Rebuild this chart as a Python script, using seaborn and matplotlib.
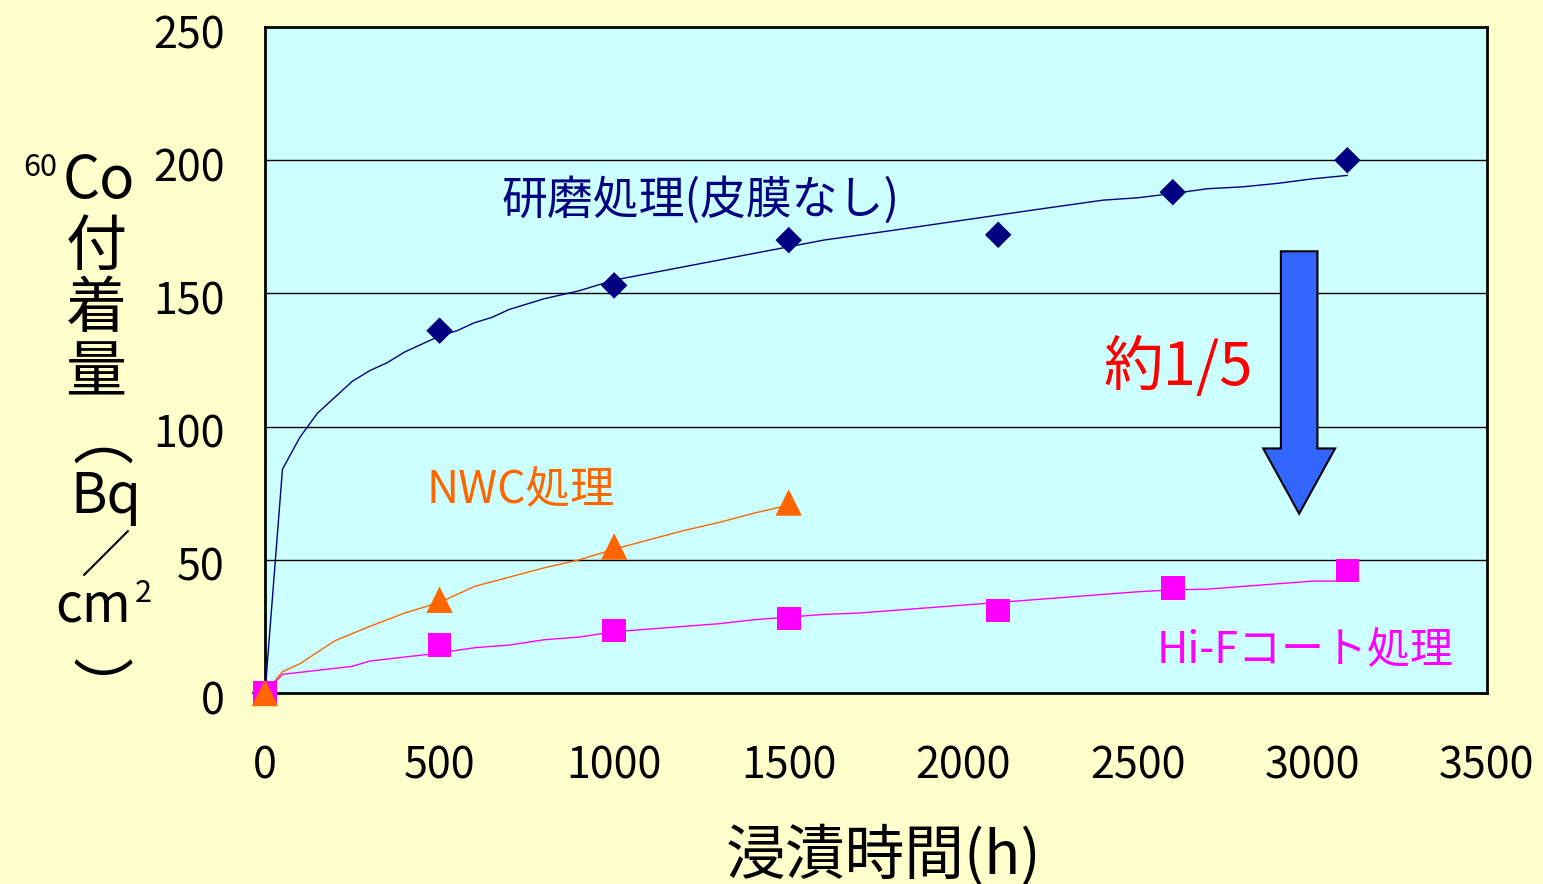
import matplotlib
matplotlib.use("Agg")
import matplotlib.pyplot as plt
import matplotlib.transforms as mtransforms
import seaborn as sns
import pandas as pd
from matplotlib.patches import FancyArrow

# ---------------- data ----------------
x_ticks = [0, 500, 1000, 1500, 2000, 2500, 3000, 3500]
y_ticks = [0, 50, 100, 150, 200, 250]

# measured points
pt_x_polish = [0, 500, 1000, 1500, 2100, 2600, 3100]
pt_y_polish = [0, 136, 153, 170, 172, 188, 200]
pt_x_nwc = [0, 500, 1000, 1500]
pt_y_nwc = [0, 35, 55, 71.5]
pt_x_hif = [0, 500, 1000, 1500, 2100, 2600, 3100]
pt_y_hif = [0, 18, 23.5, 28, 31, 39.5, 46]

# fitted curves
fit_x_polish = [0, 50, 100, 150, 200, 250, 300, 350, 400, 450, 500, 550, 600, 650,
                700, 750, 800, 900, 1000, 1100, 1200, 1300, 1400, 1500, 1600, 1800,
                2000, 2200, 2400, 2500, 2600, 2700, 2800, 2900, 3000, 3100]
fit_y_polish = [0, 84, 96, 105, 111, 117, 121, 124, 128, 131, 134, 136, 139, 141,
                144, 146, 148, 151, 155, 157.5, 160, 162.5, 165, 167.5, 170, 173.7,
                177.5, 181.3, 185, 185.9, 187.5, 189.3, 190, 191.3, 193, 194.3]
fit_x_nwc = [0, 50, 100, 200, 300, 400, 500, 600, 700, 800, 900, 1000, 1100, 1200,
             1300, 1400, 1500]
fit_y_nwc = [0, 8, 11, 19.6, 25, 30, 34, 40, 43.5, 47, 50, 54, 57.5, 61, 64, 67.5, 70.5]
fit_x_hif = [0, 50, 150, 250, 300, 400, 500, 600, 700, 800, 900, 1000, 1100, 1200,
             1300, 1400, 1500, 1600, 1700, 1800, 1900, 2000, 2100, 2200, 2300, 2400,
             2500, 2600, 2700, 2800, 2900, 3000, 3100]
fit_y_hif = [0, 7, 8.5, 10, 12, 13.5, 15, 17, 18, 20, 21, 23, 24, 25, 26, 27.5, 28.5,
             29.5, 30, 31, 32, 33, 34, 35, 36, 37, 38, 38.7, 39, 40, 41, 42, 42]

label_polish = "研磨処理(皮膜なし)"
label_nwc = "NWC処理"
label_hif = "Hi-Fコート処理"
label_ratio = "約1/5"
x_label = "浸漬時間(h)"

# ---------------- style ----------------
sns.set_theme(style="white")
plt.rcParams["font.family"] = ["Noto Sans CJK JP", "DejaVu Sans"]

W, H = 1543, 884
fig = plt.figure(figsize=(W / 100, H / 100), dpi=100, facecolor="#FFFFCC")


def px(x, y):
    return x / W, 1 - y / H


ax = fig.add_axes([265 / W, 1 - 693 / H, (1487 - 265) / W, (693 - 27) / H])
ax.set_facecolor("#CCFFFF")

NAVY = "#000080"
ORANGE = "#FF6600"
MAGENTA = "#FF00FF"

df_fit_p = pd.DataFrame({"x": fit_x_polish, "y": fit_y_polish})
df_fit_n = pd.DataFrame({"x": fit_x_nwc, "y": fit_y_nwc})
df_fit_h = pd.DataFrame({"x": fit_x_hif, "y": fit_y_hif})
df_pt_p = pd.DataFrame({"x": pt_x_polish, "y": pt_y_polish})
df_pt_n = pd.DataFrame({"x": pt_x_nwc, "y": pt_y_nwc})
df_pt_h = pd.DataFrame({"x": pt_x_hif, "y": pt_y_hif})

sns.lineplot(data=df_fit_p, x="x", y="y", ax=ax, color=NAVY, linewidth=1.0,
             estimator=None, sort=False, zorder=3)
sns.lineplot(data=df_fit_h, x="x", y="y", ax=ax, color=MAGENTA, linewidth=1.0,
             estimator=None, sort=False, zorder=3)
sns.lineplot(data=df_fit_n, x="x", y="y", ax=ax, color=ORANGE, linewidth=1.0,
             estimator=None, sort=False, zorder=3)

sns.scatterplot(data=df_pt_p, x="x", y="y", ax=ax, marker="D", s=13.5 ** 2,
                color=NAVY, edgecolor="none", zorder=4, clip_on=False)
sns.scatterplot(data=df_pt_h, x="x", y="y", ax=ax, marker="s", s=17 ** 2,
                color=MAGENTA, edgecolor="none", zorder=5, clip_on=False)
sns.scatterplot(data=df_pt_n, x="x", y="y", ax=ax, marker="^", s=19 ** 2,
                color=ORANGE, edgecolor="none", zorder=6, clip_on=False)

ax.set_xlim(0, 3500)
ax.set_ylim(0, 250)
ax.set_xticks(x_ticks)
ax.set_yticks(y_ticks)
ax.set_xlabel("")
ax.set_ylabel("")
ax.yaxis.grid(True, color="black", linewidth=1.0)
ax.xaxis.grid(False)
for s in ax.spines.values():
    s.set_color("black")
    s.set_linewidth(2)
ax.tick_params(axis="both", direction="in", length=10, width=1, color="black",
               labelsize=31, labelcolor="black")
ax.tick_params(axis="y", pad=29)
ax.tick_params(axis="x", pad=37)
shift_down = mtransforms.ScaledTranslation(0, -3 / 72, fig.dpi_scale_trans)
for t in ax.get_yticklabels():
    t.set_transform(t.get_transform() + shift_down)

# big arrow
arrow_x, arrow_top, arrow_tip = 2962, 165.8, 67.3
arr = FancyArrow(arrow_x, arrow_top, 0, arrow_tip - arrow_top, width=104.7,
                 head_width=206, head_length=24.5, length_includes_head=True,
                 facecolor="#3366FF", edgecolor="black", linewidth=1.5, zorder=4)
ax.add_patch(arr)

# annotations
fig.text(*px(701, 201), label_polish, color=NAVY, fontsize=33, ha="center", va="center")
fig.text(*px(521, 490), label_nwc, color=ORANGE, fontsize=32, ha="center", va="center")
fig.text(*px(1305, 651), label_hif, color=MAGENTA, fontsize=31, ha="center", va="center")
fig.text(*px(1178, 368), label_ratio, color="#FF0000", fontsize=43, ha="center", va="center")

# x label
fig.text(*px(884, 856), x_label, color="black", fontsize=43, ha="center", va="center")

# stacked y label
fig.text(*px(40, 176), "60", fontsize=22, ha="center", va="baseline", color="black")
fig.text(*px(99, 198), "Co", fontsize=42, ha="center", va="baseline", color="black")
for ch, yy in zip(["付", "着", "量"], [248, 310, 374]):
    fig.text(*px(96, yy), ch, fontsize=44, ha="center", va="center", color="black")
fig.text(*px(103, 441), "︵", fontsize=44, ha="center", va="center", color="black")
fig.text(*px(106, 513), "Bq", fontsize=40, ha="center", va="baseline", color="black")
fig.text(*px(105, 558), "／", fontsize=36, ha="center", va="center", color="black")
fig.text(*px(93, 622), "cm", fontsize=38, ha="center", va="baseline", color="black")
fig.text(*px(143, 602), "2", fontsize=22, ha="center", va="baseline", color="black")
fig.text(*px(103, 693), "︶", fontsize=44, ha="center", va="center", color="black")

fig.savefig("out.png", dpi=100, facecolor=fig.get_facecolor())
